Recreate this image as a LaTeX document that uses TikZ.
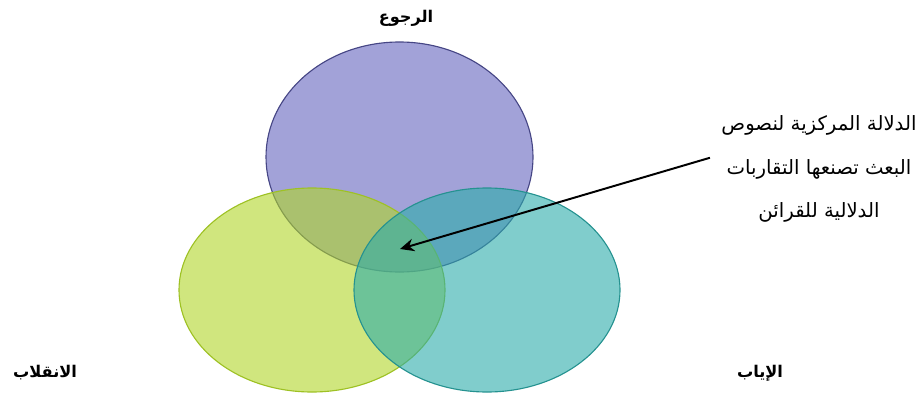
\documentclass[tikz,border=0pt]{standalone}
\usepackage{fontspec}
\usetikzlibrary{arrows.meta}
\TeXXeTstate=1
\newfontfamily\arabicfont[Script=Arabic]{DejaVu Sans}

\definecolor{setblue}{RGB}{100,100,190}
\definecolor{setgreen}{RGB}{176,214,40}
\definecolor{setteal}{RGB}{44,172,170}

\begin{document}
\begin{tikzpicture}[x=0.025cm, y=-0.025cm, >={Stealth[length=10pt, width=9pt]},
    set/.style={fill opacity=0.6, line width=0.8pt},
    setname/.style={font=\arabicfont\bfseries\fontsize{11.5}{13}\selectfont},
    note/.style={font=\arabicfont\fontsize{14}{31}\selectfont, align=center,
      inner xsep=8pt}]
  \useasboundingbox (0,0) rectangle (924,394);

  % the three sets
  \path[set, draw=setblue!70!black, fill=setblue] (399.5,157) ellipse (133.5 and 115);
  \path[set, draw=setgreen!90!black, fill=setgreen] (312,290) ellipse (133 and 102);
  \path[set, draw=setteal!85!black, fill=setteal] (487,290) ellipse (133 and 102);

  \node[setname] (ruju) at (406,18) {\beginR الرجوع\endR};
  \node[setname] (inqilab) at (45,373) {\beginR الانقلاب\endR};
  \node[setname] (iyab) at (760,373) {\beginR الإياب\endR};

  \coordinate (core) at (400,249);
  \node[note] (sense) at (819,169)
    {\beginR الدلالة المركزية لنصوص\endR\\
     \beginR البعث تصنعها التقاربات\endR\\
     \beginR الدلالية للقرائن\endR};

  \draw[->, line width=1.4pt] ([yshift=8pt]sense.west) -- (core);
\end{tikzpicture}
\end{document}
